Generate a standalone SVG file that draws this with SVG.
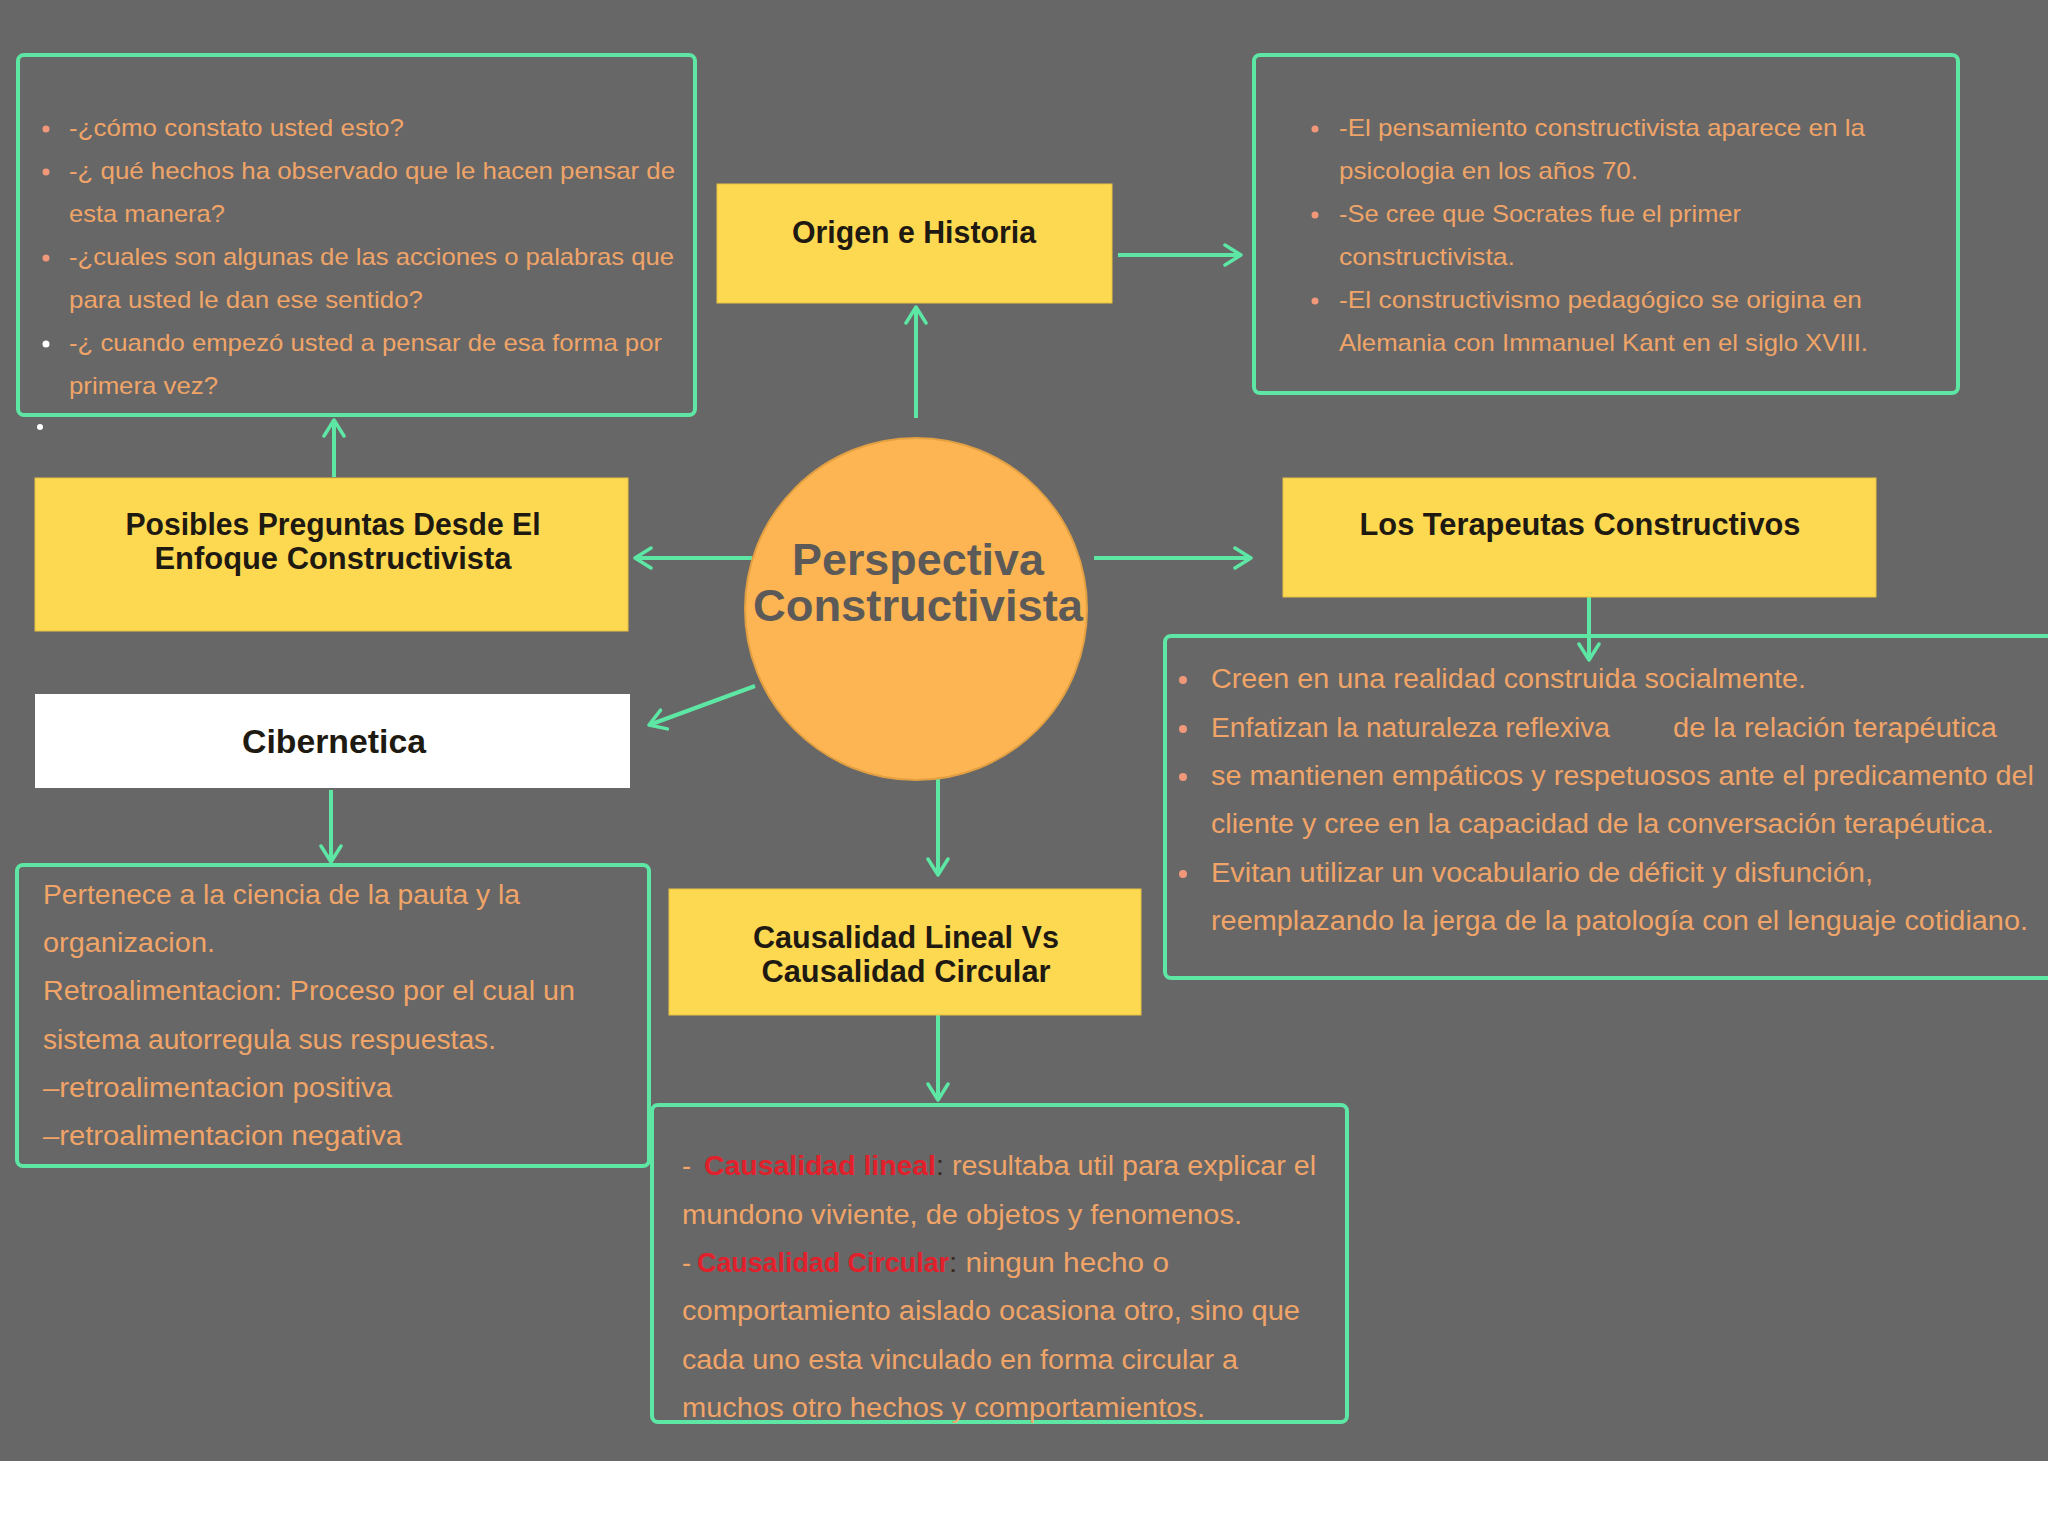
<svg xmlns="http://www.w3.org/2000/svg" width="2048" height="1536" viewBox="0 0 2048 1536">
<defs>
<style>
.bg{fill:#676767}
.box{fill:none;stroke:#5de6a4;stroke-width:4}
.ynode{fill:#fdd952;stroke:#e9c143;stroke-width:1}
.lbl{font-family:"Liberation Sans",Arial,sans-serif;font-weight:bold;fill:#1e1a12;text-anchor:middle}
.body{font-family:"Liberation Sans",Arial,sans-serif;fill:#f0a468}
.b24{font-size:24px}
.b27{font-size:27px}
.red{fill:#e2202c;font-weight:bold}
.dark{fill:#3a2a20}
.dot{fill:#f2987a}
.wdot{fill:#ffffff}
.conn{stroke:#5de6a4;stroke-width:4;fill:none;marker-end:url(#arr)}
</style>
<marker id="arr" markerUnits="userSpaceOnUse" viewBox="0 0 20 24" markerWidth="20" markerHeight="24" refX="18" refY="12" orient="auto">
<path d="M2,2 L18,12 L2,22" fill="none" stroke="#5de6a4" stroke-width="3.5" stroke-linecap="round" stroke-linejoin="round"/>
</marker>
</defs>
<rect x="0" y="0" width="2048" height="1536" fill="#ffffff"/>
<rect class="bg" x="0" y="0" width="2048" height="1461"/>

<g id="connectors">
<line class="conn" x1="916" y1="418" x2="916" y2="307"/>
<line class="conn" x1="1118" y1="255" x2="1241" y2="255"/>
<line class="conn" x1="334" y1="477" x2="334" y2="420"/>
<line class="conn" x1="752" y1="558" x2="635" y2="558"/>
<line class="conn" x1="1094" y1="558" x2="1251" y2="558"/>
<line class="conn" x1="1589" y1="597" x2="1589" y2="660"/>
<line class="conn" x1="755" y1="686" x2="649" y2="725"/>
<line class="conn" x1="331" y1="790" x2="331" y2="862"/>
<line class="conn" x1="938" y1="772" x2="938" y2="875"/>
<line class="conn" x1="938" y1="993" x2="938" y2="1100"/>
</g>

<g id="preguntas-box">
<rect class="box" x="18" y="55" width="677" height="360" rx="6"/>
<circle class="dot" cx="46" cy="129" r="3.5"/>
<circle class="dot" cx="46" cy="172" r="3.5"/>
<circle class="dot" cx="46" cy="258" r="3.5"/>
<circle class="wdot" cx="46" cy="344" r="3.5"/>
<text class="body b24" x="69" y="136" textLength="335" lengthAdjust="spacingAndGlyphs">-¿cómo constato usted esto?</text>
<text class="body b24" x="69" y="179" textLength="606" lengthAdjust="spacingAndGlyphs">-¿ qué hechos ha observado que le hacen pensar de</text>
<text class="body b24" x="69" y="222" textLength="156" lengthAdjust="spacingAndGlyphs">esta manera?</text>
<text class="body b24" x="69" y="265" textLength="605" lengthAdjust="spacingAndGlyphs">-¿cuales son algunas de las acciones o palabras que</text>
<text class="body b24" x="69" y="308" textLength="354" lengthAdjust="spacingAndGlyphs">para usted le dan ese sentido?</text>
<text class="body b24" x="69" y="351" textLength="593" lengthAdjust="spacingAndGlyphs">-¿ cuando empezó usted a pensar de esa forma por</text>
<text class="body b24" x="69" y="394" textLength="149" lengthAdjust="spacingAndGlyphs">primera vez?</text>
<circle class="wdot" cx="40" cy="427" r="3"/>
</g>

<g id="origen">
<rect class="ynode" x="717" y="184" width="395" height="119"/>
<text class="lbl" x="914" y="243" font-size="32" textLength="244" lengthAdjust="spacingAndGlyphs">Origen e Historia</text>
</g>

<g id="origen-box">
<rect class="box" x="1254" y="55" width="704" height="338" rx="6"/>
<circle class="dot" cx="1315" cy="129" r="3.5"/>
<circle class="dot" cx="1315" cy="215" r="3.5"/>
<circle class="dot" cx="1315" cy="301" r="3.5"/>
<text class="body b24" x="1339" y="136" textLength="526" lengthAdjust="spacingAndGlyphs">-El pensamiento constructivista aparece en la</text>
<text class="body b24" x="1339" y="179" textLength="299" lengthAdjust="spacingAndGlyphs">psicologia en los años 70.</text>
<text class="body b24" x="1339" y="222" textLength="402" lengthAdjust="spacingAndGlyphs">-Se cree que Socrates fue el primer</text>
<text class="body b24" x="1339" y="265" textLength="176" lengthAdjust="spacingAndGlyphs">constructivista.</text>
<text class="body b24" x="1339" y="308" textLength="523" lengthAdjust="spacingAndGlyphs">-El constructivismo pedagógico se origina en</text>
<text class="body b24" x="1339" y="351" textLength="529" lengthAdjust="spacingAndGlyphs">Alemania con Immanuel Kant en el siglo XVIII.</text>
</g>

<g id="posibles">
<rect class="ynode" x="35" y="478" width="593" height="153"/>
<text class="lbl" x="333" y="535" font-size="32" textLength="415" lengthAdjust="spacingAndGlyphs">Posibles Preguntas Desde El</text>
<text class="lbl" x="333" y="569" font-size="32" textLength="357" lengthAdjust="spacingAndGlyphs">Enfoque Constructivista</text>
</g>

<g id="centro">
<circle cx="916" cy="609" r="171" fill="#fcb552" stroke="#e2a043" stroke-width="2"/>
<text x="918" y="575" font-family="Liberation Sans,Arial,sans-serif" font-weight="bold" font-size="45" fill="#5c5a58" text-anchor="middle" textLength="252" lengthAdjust="spacingAndGlyphs">Perspectiva</text>
<text x="918" y="621" font-family="Liberation Sans,Arial,sans-serif" font-weight="bold" font-size="45" fill="#5c5a58" text-anchor="middle" textLength="330" lengthAdjust="spacingAndGlyphs">Constructivista</text>
</g>

<g id="terapeutas">
<rect class="ynode" x="1283" y="478" width="593" height="119"/>
<text class="lbl" x="1580" y="535" font-size="32" textLength="441" lengthAdjust="spacingAndGlyphs">Los Terapeutas Constructivos</text>
</g>

<g id="terapeutas-box">
<rect class="box" x="1165" y="636" width="920" height="342" rx="6"/>
<circle class="dot" cx="1183" cy="680" r="4"/>
<circle class="dot" cx="1183" cy="729" r="4"/>
<circle class="dot" cx="1183" cy="777" r="4"/>
<circle class="dot" cx="1183" cy="874" r="4"/>
<text class="body b27" x="1211" y="688" textLength="595" lengthAdjust="spacingAndGlyphs">Creen en una realidad construida socialmente.</text>
<text class="body b27" x="1211" y="737" textLength="399" lengthAdjust="spacingAndGlyphs">Enfatizan la naturaleza reflexiva</text>
<text class="body b27" x="1673" y="737" textLength="324" lengthAdjust="spacingAndGlyphs">de la relación terapéutica</text>
<text class="body b27" x="1211" y="785" textLength="823" lengthAdjust="spacingAndGlyphs">se mantienen empáticos y respetuosos ante el predicamento del</text>
<text class="body b27" x="1211" y="833" textLength="783" lengthAdjust="spacingAndGlyphs">cliente y cree en la capacidad de la conversación terapéutica.</text>
<text class="body b27" x="1211" y="882" textLength="662" lengthAdjust="spacingAndGlyphs">Evitan utilizar un vocabulario de déficit y disfunción,</text>
<text class="body b27" x="1211" y="930" textLength="817" lengthAdjust="spacingAndGlyphs">reemplazando la jerga de la patología con el lenguaje cotidiano.</text>
</g>

<g id="cibernetica">
<rect x="35" y="694" width="595" height="94" fill="#ffffff"/>
<text class="lbl" x="334" y="753" font-size="33" textLength="184" lengthAdjust="spacingAndGlyphs">Cibernetica</text>
</g>

<g id="cibernetica-box">
<rect class="box" x="17" y="865" width="632" height="301" rx="6"/>
<text class="body b27" x="43" y="904" textLength="477" lengthAdjust="spacingAndGlyphs">Pertenece a la ciencia de la pauta y la</text>
<text class="body b27" x="43" y="952" textLength="172" lengthAdjust="spacingAndGlyphs">organizacion.</text>
<text class="body b27" x="43" y="1000" textLength="532" lengthAdjust="spacingAndGlyphs">Retroalimentacion: Proceso por el cual un</text>
<text class="body b27" x="43" y="1049" textLength="453" lengthAdjust="spacingAndGlyphs">sistema autorregula sus respuestas.</text>
<text class="body b27" x="43" y="1097" textLength="349" lengthAdjust="spacingAndGlyphs">–retroalimentacion positiva</text>
<text class="body b27" x="43" y="1145" textLength="359" lengthAdjust="spacingAndGlyphs">–retroalimentacion negativa</text>
</g>

<g id="causalidad">
<rect class="ynode" x="669" y="889" width="472" height="126"/>
<text class="lbl" x="906" y="948" font-size="32" textLength="306" lengthAdjust="spacingAndGlyphs">Causalidad Lineal Vs</text>
<text class="lbl" x="906" y="982" font-size="32" textLength="289" lengthAdjust="spacingAndGlyphs">Causalidad Circular</text>
</g>

<g id="causalidad-box">
<rect class="box" x="652" y="1105" width="695" height="317" rx="6"/>
<text class="body b27" x="682" y="1175">-</text>
<text class="body b27 red" x="704" y="1175" textLength="232" lengthAdjust="spacingAndGlyphs">Causalidad lineal</text>
<text class="body b27" x="936" y="1175" textLength="380" lengthAdjust="spacingAndGlyphs"><tspan class="dark">:</tspan> resultaba util para explicar el</text>
<text class="body b27" x="682" y="1224" textLength="560" lengthAdjust="spacingAndGlyphs">mundono viviente, de objetos y fenomenos.</text>
<text class="body b27" x="682" y="1272">-</text>
<text class="body b27 red" x="697" y="1272" textLength="252" lengthAdjust="spacingAndGlyphs">Causalidad Circular</text>
<text class="body b27" x="949" y="1272" textLength="220" lengthAdjust="spacingAndGlyphs"><tspan class="dark">:</tspan> ningun hecho o</text>
<text class="body b27" x="682" y="1320" textLength="618" lengthAdjust="spacingAndGlyphs">comportamiento aislado ocasiona otro, sino que</text>
<text class="body b27" x="682" y="1369" textLength="556" lengthAdjust="spacingAndGlyphs">cada uno esta vinculado en forma circular a</text>
<text class="body b27" x="682" y="1417" textLength="523" lengthAdjust="spacingAndGlyphs">muchos otro hechos y comportamientos.</text>
</g>
</svg>
